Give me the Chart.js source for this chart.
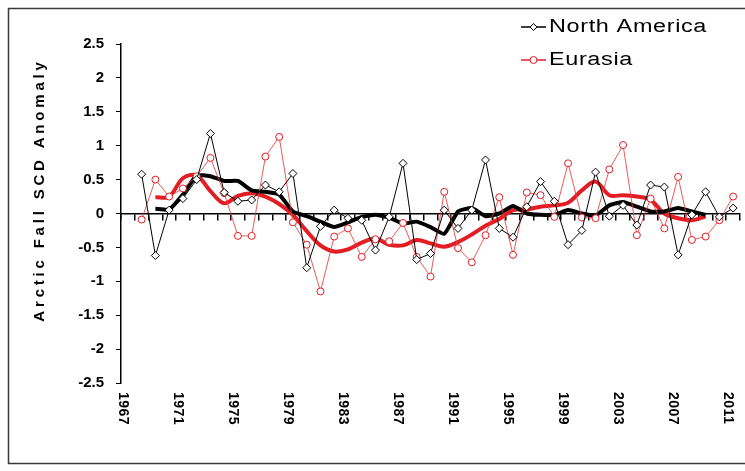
<!DOCTYPE html>
<html>
<head>
<meta charset="utf-8">
<script src="https://cdn.jsdelivr.net/npm/chart.js@4.4.1/dist/chart.umd.min.js"></script>
<style>
  html, body { margin: 0; padding: 0; background: #fff; overflow: hidden; }
  #wrap { width: 745px; height: 471px; }
</style>
</head>
<body>
<div id="wrap"><canvas id="scd" width="745" height="471"></canvas></div>
<script>
// fall seasons on the category axis
const years = ['1967','1968','1969','1970','1971','1972','1973','1974','1975','1976',
  '1977','1978','1979','1980','1981','1982','1983','1984','1985','1986',
  '1987','1988','1989','1990','1991','1992','1993','1994','1995','1996',
  '1997','1998','1999','2000','2001','2002','2003','2004','2005','2006',
  '2007','2008','2009','2010','2011'];
const yearTicks = ['1967','1971','1975','1979','1983','1987','1991','1995','1999','2003','2007','2011'];

// yearly anomalies (days)
const northAmerica = [null, 0.58, -0.62, 0.05, 0.22, 0.50, 1.18, 0.31, 0.18, 0.20,
  0.42, 0.32, 0.59, -0.80, -0.19, 0.05, -0.07, -0.10, -0.54, -0.05,
  0.74, -0.68, -0.59, 0.05, -0.22, 0.05, 0.79, -0.22, -0.35, 0.10,
  0.47, 0.18, -0.46, -0.25, 0.61, -0.04, 0.12, -0.17, 0.42, 0.39,
  -0.61, -0.02, 0.32, -0.05, 0.08];
const eurasia = [null, -0.09, 0.50, 0.25, 0.37, 0.55, 0.82, 0.30, -0.33, -0.33,
  0.84, 1.13, -0.13, -0.46, -1.15, -0.34, -0.22, -0.64, -0.38, -0.41,
  -0.14, -0.64, -0.93, 0.32, -0.51, -0.72, -0.32, 0.24, -0.61, 0.31,
  0.27, -0.05, 0.74, -0.06, -0.07, 0.65, 1.01, -0.32, 0.22, -0.22,
  0.54, -0.39, -0.34, -0.10, 0.25];

// running means
const northAmericaMean = [null, null, 0.07, 0.06, 0.28, 0.56, 0.55, 0.48, 0.48, 0.34,
  0.32, 0.28, 0.03, -0.04, -0.12, -0.20, -0.13, -0.05, -0.02, -0.06,
  -0.15, -0.12, -0.20, -0.30, 0.03, 0.08, -0.04, 0.00, 0.11, 0.00,
  -0.02, -0.02, 0.05, 0.00, -0.03, 0.12, 0.17, 0.10, 0.03, 0.03,
  0.08, 0.03, -0.02, null, null];
const eurasiaMean = [null, null, 0.24, 0.25, 0.52, 0.56, 0.33, 0.15, 0.26, 0.30,
  0.25, 0.14, -0.02, -0.26, -0.47, -0.56, -0.53, -0.43, -0.37, -0.46,
  -0.47, -0.39, -0.44, -0.49, -0.42, -0.31, -0.18, -0.08, 0.05, 0.06,
  0.10, 0.12, 0.16, 0.34, 0.47, 0.27, 0.27, 0.25, 0.20, 0.00,
  -0.07, -0.10, -0.04, null, null];

const RED = 'rgb(226,30,36)';
const RED_THIN = 'rgba(232,60,60,0.85)';
const FONT = '"Liberation Sans", Arial, sans-serif';
const NARROW = '"Liberation Sans Narrow", "Arial Narrow", "Liberation Sans", Arial, sans-serif';

// frame, axis title, rotated year labels and legend
const decorations = {
  id: 'decorations',
  beforeDraw(chart) {
    const ctx = chart.ctx;
    ctx.save();
    ctx.fillStyle = '#fff';
    ctx.fillRect(0, 0, chart.width, chart.height);
    ctx.strokeStyle = '#3a3a3a';
    ctx.lineWidth = 1.5;
    ctx.strokeRect(8.5, 8.5, chart.width + 20, 455);
    ctx.restore();
  },
  afterDraw(chart) {
    const ctx = chart.ctx;
    const xs = chart.scales.x;
    const ys = chart.scales.y;
    ctx.save();
    ctx.fillStyle = '#000';

    // y title
    ctx.font = 'bold 15px ' + FONT;
    ctx.letterSpacing = '3.8px';
    ctx.textAlign = 'center';
    ctx.textBaseline = 'middle';
    ctx.translate(40, 190);
    ctx.rotate(-Math.PI / 2);
    ctx.fillText('Arctic Fall SCD Anomaly', 0, 0);
    ctx.setTransform(1, 0, 0, 1, 0, 0);

    // year labels, turned clockwise, at the start of each year's slot
    ctx.letterSpacing = '0.5px';
    ctx.font = 'bold 14px ' + FONT;
    ctx.textAlign = 'left';
    const half = (xs.getPixelForValue(1) - xs.getPixelForValue(0)) / 2;
    yearTicks.forEach(t => {
      const x = xs.getPixelForValue(years.indexOf(t)) - half + 2;
      ctx.save();
      ctx.translate(x, ys.bottom + 9);
      ctx.rotate(Math.PI / 2);
      ctx.fillText(t, 0, 0);
      ctx.restore();
    });

    // legend
    ctx.font = '18px ' + FONT;
    ctx.letterSpacing = '0.5px';
    ctx.textBaseline = 'middle';
    const rows = chart.data.datasets.filter(d => d.label);
    rows.forEach((d, i) => {
      const y = 27 + i * 33;
      ctx.strokeStyle = d.pointBorderColor;
      ctx.lineWidth = 1.5;
      ctx.beginPath();
      ctx.moveTo(521, y);
      ctx.lineTo(546, y);
      ctx.stroke();
      ctx.fillStyle = '#fff';
      ctx.lineWidth = 1;
      ctx.beginPath();
      if (d.pointStyle === 'rectRot') {
        ctx.moveTo(533.5, y - 3.5); ctx.lineTo(537, y); ctx.lineTo(533.5, y + 3.5); ctx.lineTo(530, y);
        ctx.closePath();
      } else {
        ctx.arc(533.5, y, 3.5, 0, Math.PI * 2);
      }
      ctx.fill();
      ctx.stroke();
      ctx.fillStyle = '#000';
      ctx.save();
      ctx.translate(549, y);
      ctx.scale(1.3, 1);
      ctx.fillText(d.label, 0, 0);
      ctx.restore();
    });
    ctx.restore();
  }
};

new Chart(document.getElementById('scd'), {
  type: 'line',
  data: {
    labels: years,
    datasets: [
      {
        label: 'North America',
        data: northAmerica,
        borderColor: '#000',
        borderWidth: 1,
        pointStyle: 'rectRot',
        pointRadius: 4,
        pointBackgroundColor: '#fff',
        pointBorderColor: '#000',
        pointBorderWidth: 1,
        tension: 0
      },
      {
        label: 'Eurasia',
        data: eurasia,
        borderColor: RED_THIN,
        borderWidth: 1,
        pointStyle: 'circle',
        pointRadius: 3.5,
        pointBackgroundColor: '#fff',
        pointBorderColor: RED,
        pointBorderWidth: 1,
        tension: 0
      },
      {
        label: '',
        data: northAmericaMean,
        borderColor: '#000',
        borderWidth: 4,
        pointRadius: 0,
        tension: 0.15
      },
      {
        label: '',
        data: eurasiaMean,
        borderColor: RED,
        borderWidth: 4,
        pointRadius: 0,
        tension: 0.35
      }
    ]
  },
  options: {
    responsive: false,
    animation: false,
    layout: { padding: { left: 8, top: 44, right: 4, bottom: 88 } },
    plugins: {
      legend: { display: false },
      tooltip: { enabled: false }
    },
    scales: {
      x: {
        type: 'category',
        position: { y: 0 },
        offset: true,
        grid: { display: true, offset: true, drawOnChartArea: false, drawTicks: true, tickLength: 6, color: '#000', lineWidth: 1.5 },
        border: { display: true, color: '#000', width: 1.5 },
        ticks: { display: false }
      },
      y: {
        min: -2.5,
        max: 2.5,
        afterFit(scale) { scale.width = 113; },
        grid: { drawOnChartArea: false, drawTicks: true, tickLength: 5, color: '#000' },
        border: { display: true, color: '#000', width: 1.5 },
        ticks: {
          stepSize: 0.5,
          padding: 12,
          color: '#000',
          font: { family: NARROW, size: 15, weight: 'bold' },
          callback: v => String(Math.round(v * 10) / 10)
        }
      }
    }
  },
  plugins: [decorations]
});
</script>
</body>
</html>
